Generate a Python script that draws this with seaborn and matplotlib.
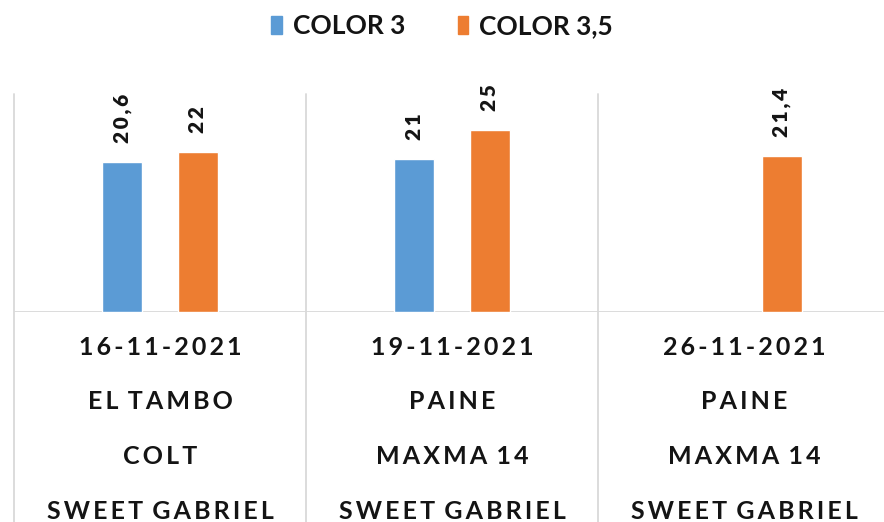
import numpy as np
import pandas as pd
import seaborn as sns
import matplotlib.pyplot as plt
import matplotlib.transforms as mtransforms
from matplotlib.patches import Patch

# Datos del grafico
fechas = ["16-11-2021", "19-11-2021", "26-11-2021"]
origen = ["EL TAMBO", "PAINE", "PAINE"]
portainjerto = ["COLT", "MAXMA 14", "MAXMA 14"]
variedad = ["SWEET GABRIEL", "SWEET GABRIEL", "SWEET GABRIEL"]
series = ["COLOR 3", "COLOR 3,5"]
color_3 = [20.6, 21, np.nan]
color_35 = [22, 25, 21.4]
colores = ["#5B9BD5", "#ED7D31"]

df = pd.DataFrame({
    "Fecha": fechas * 2,
    "Serie": [series[0]] * 3 + [series[1]] * 3,
    "Valor": color_3 + color_35,
})

sns.set_style("white")
plt.rcParams["font.family"] = ["Lato", "DejaVu Sans"]
grid_c = "#D9D9D9"
txt_c = "#141414"

fig = plt.figure(figsize=(8.84, 5.22), dpi=100)
ax = fig.add_axes([14 / 884, 210 / 522, 876 / 884, 218 / 522])

sns.barplot(data=df, x="Fecha", y="Valor", hue="Serie", hue_order=series,
            palette=colores, width=0.52, gap=0.47, errorbar=None,
            legend=False, ax=ax, saturation=1)

ax.set_xlim(-0.5, 2.5)
ax.set_ylim(0, 30)
for s in ax.spines.values():
    s.set_visible(False)
ax.set_yticks([])
ax.set_xlabel("")
ax.set_ylabel("")


# espaciado de letras (tipo Excel)
def espaciar(t):
    return "\u2009 ".join("\u2009".join(w) for w in t.split(" "))


# etiquetas de datos
for cont in ax.containers:
    labs = [espaciar(f"{b.get_height():g}".replace(".", ",")) for b in cont]
    txts = ax.bar_label(cont, labels=labs, rotation=90, padding=14, fontsize=15,
                        color=txt_c)
    for t in txts:
        t.set_fontweight("heavy")

# lineas de la grilla / separadores de categoria
ax.axhline(0, color=grid_c, lw=1.3, zorder=0)
trans = mtransforms.blended_transform_factory(ax.transData, ax.transAxes)
for xb in [-0.5, 0.5, 1.5, 2.5]:
    ax.plot([xb, xb], [-210 / 218, 1], color=grid_c, lw=1.3,
            transform=trans, clip_on=False, zorder=0)

# etiquetas de eje con varios niveles
etiquetas = ["\n".join(espaciar(t) for t in (f, o, p, v))
             for f, o, p, v in zip(fechas, origen, portainjerto, variedad)]
ax.set_xticks(range(3))
ax.set_xticklabels(etiquetas, fontsize=18, fontweight="bold", color=txt_c,
                   linespacing=2.67)
ax.tick_params(axis="x", length=0, pad=17)

handles = [Patch(color=c, label=s) for c, s in zip(colores, series)]
leg = fig.legend(handles=handles, loc="center", bbox_to_anchor=(0.5, 1 - 26 / 522),
                 ncol=2, frameon=False, fontsize=19, handlelength=0.4,
                 handleheight=0.7, handletextpad=0.4, columnspacing=2.0)
for t in leg.get_texts():
    t.set_fontweight("bold")
    t.set_color(txt_c)

fig.savefig("out.png", dpi=100)
